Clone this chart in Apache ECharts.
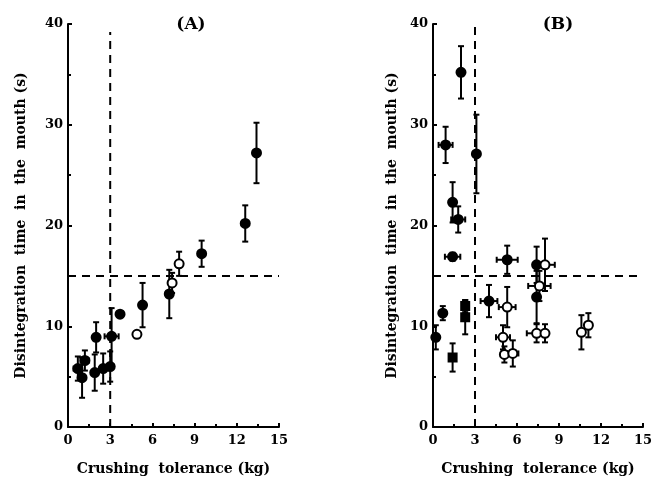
<!DOCTYPE html>
<html>
<head>
<meta charset="utf-8">
<script src="https://cdn.jsdelivr.net/npm/echarts@6/dist/echarts.min.js"></script>
<style>
  html, body { margin: 0; padding: 0; background: #fff; }
  #main { width: 658px; height: 478px; }
</style>
</head>
<body>
<div id="main"></div>
<script>
// [x, y, y error, x error]
var aFilled = [
  [0.7, 5.8, 1.2, 0.3], [1.0, 4.9, 2.0, 0], [1.2, 6.6, 1.0, 0.3],
  [2.0, 8.9, 1.5, 0], [1.9, 5.4, 1.8, 0], [2.5, 5.8, 1.5, 0],
  [3.0, 6.0, 1.5, 0], [3.1, 9.0, 2.8, 0.5], [3.7, 11.2, 0, 0],
  [5.3, 12.1, 2.2, 0], [7.2, 13.2, 2.4, 0], [9.5, 17.2, 1.3, 0],
  [12.6, 20.2, 1.8, 0], [13.4, 27.2, 3.0, 0]
];
var aOpen = [
  [4.9, 9.2, 0, 0], [7.4, 14.3, 1.0, 0], [7.9, 16.2, 1.2, 0]
];
var bFilled = [
  [0.9, 28.0, 1.8, 0.5], [2.0, 35.2, 2.6, 0], [3.1, 27.1, 3.9, 0],
  [1.4, 22.3, 2.0, 0], [1.8, 20.6, 1.3, 0.5], [1.4, 16.9, 0.4, 0.55],
  [5.3, 16.6, 1.4, 0.75], [7.4, 16.1, 1.8, 0], [7.4, 12.9, 2.6, 0],
  [0.7, 11.3, 0.7, 0], [4.0, 12.5, 1.6, 0.6], [0.2, 8.9, 1.2, 0]
];
var bSquare = [
  [2.3, 12.0, 0.6, 0], [2.3, 10.9, 1.7, 0], [1.4, 6.9, 1.4, 0]
];
var bOpen = [
  [8.0, 16.1, 2.6, 0.7], [7.6, 14.0, 1.5, 0.8], [5.3, 11.9, 2.0, 0.6],
  [5.0, 8.9, 1.2, 0.5], [5.1, 7.2, 0.8, 0], [5.7, 7.3, 1.3, 0.4],
  [7.4, 9.3, 0.9, 0.7], [8.0, 9.3, 0.9, 0], [10.6, 9.4, 1.7, 0],
  [11.1, 10.1, 1.2, 0]
];
// cut-off lines
var vLineA = [[3, 0], [3, 39.2]];
var vLineB = [[3, 0], [3, 40]];
var hLine = [[0, 15], [15, 15]];

var font = 'DejaVu Serif';
var chart = echarts.init(document.getElementById('main'));

function errBars(params, api) {
  var x = api.value(0), y = api.value(1), ey = api.value(2), ex = api.value(3);
  var st = { stroke: '#000', lineWidth: 2 };
  var kids = [];
  if (ey > 0) {
    var t = api.coord([x, y + ey]), b = api.coord([x, y - ey]);
    kids.push({ type: 'line', shape: { x1: t[0], y1: t[1], x2: b[0], y2: b[1] }, style: st });
    kids.push({ type: 'line', shape: { x1: t[0] - 3, y1: t[1], x2: t[0] + 3, y2: t[1] }, style: st });
    kids.push({ type: 'line', shape: { x1: b[0] - 3, y1: b[1], x2: b[0] + 3, y2: b[1] }, style: st });
  }
  if (ex > 0) {
    var l = api.coord([x - ex, y]), r = api.coord([x + ex, y]);
    kids.push({ type: 'line', shape: { x1: l[0], y1: l[1], x2: r[0], y2: r[1] }, style: st });
    kids.push({ type: 'line', shape: { x1: l[0], y1: l[1] - 3, x2: l[0], y2: l[1] + 3 }, style: st });
    kids.push({ type: 'line', shape: { x1: r[0], y1: r[1] - 3, x2: r[0], y2: r[1] + 3 }, style: st });
  }
  return { type: 'group', children: kids };
}

function xAx(idx) {
  return {
    gridIndex: idx, type: 'value', min: 0, max: 15, interval: 3,
    name: 'Crushing  tolerance (kg)', nameLocation: 'middle', nameGap: 35,
    nameTextStyle: { fontFamily: font, fontWeight: 'bold', fontSize: 14, color: '#000' },
    axisLine: { lineStyle: { color: '#000', width: 2 } },
    axisTick: { inside: true, length: 4, lineStyle: { width: 2 } },
    minorTick: { show: true, splitNumber: 2, length: 3, lineStyle: { color: '#000', width: 2 } },
    axisLabel: { fontFamily: font, fontWeight: 'bold', fontSize: 13, color: '#000', margin: 7 },
    splitLine: { show: false }
  };
}
function yAx(idx, gap) {
  return {
    gridIndex: idx, type: 'value', min: 0, max: 40, interval: 10,
    name: 'Disintegration  time  in  the  mouth (s)', nameLocation: 'middle', nameGap: gap,
    nameTextStyle: { fontFamily: font, fontWeight: 'bold', fontSize: 14, color: '#000' },
    axisLine: { lineStyle: { color: '#000', width: 2 } },
    axisTick: { inside: true, length: 4, lineStyle: { width: 2 } },
    minorTick: { show: true, splitNumber: 2, length: 3, lineStyle: { color: '#000', width: 2 } },
    axisLabel: { fontFamily: font, fontWeight: 'bold', fontSize: 13, color: '#000', margin: 5 },
    splitLine: { show: false }
  };
}

function dash(data, idx) {
  return {
    type: 'line', xAxisIndex: idx, yAxisIndex: idx, data: data, symbol: 'none',
    silent: true, lineStyle: { color: '#000', width: 2, type: [8, 6] }, z: 1
  };
}
function bars(data, idx) {
  return {
    type: 'custom', xAxisIndex: idx, yAxisIndex: idx, data: data,
    renderItem: errBars, encode: { x: 0, y: 1 }, z: 2, silent: true
  };
}
function pts(data, idx, sym, fill) {
  return {
    type: 'scatter', xAxisIndex: idx, yAxisIndex: idx, data: data,
    encode: { x: 0, y: 1 }, symbol: sym, symbolSize: sym === 'rect' ? 8 : 9, z: 3,
    itemStyle: { color: fill, borderColor: '#000', borderWidth: 2, opacity: 1 }
  };
}

var option = {
  animation: false,
  backgroundColor: '#fff',
  title: [
    { text: '(A)', left: 186, top: 11, textAlign: 'center',
      textStyle: { fontFamily: font, fontWeight: 'bold', fontSize: 17, color: '#000' } },
    { text: '(B)', left: 553, top: 11, textAlign: 'center',
      textStyle: { fontFamily: font, fontWeight: 'bold', fontSize: 17, color: '#000' } }
  ],
  grid: [
    { left: 68, top: 24, width: 211, height: 403, outerBoundsMode: 'none' },
    { left: 433, top: 24, width: 210, height: 403, outerBoundsMode: 'none' }
  ],
  xAxis: [xAx(0), xAx(1)],
  yAxis: [yAx(0, 40), yAx(1, 34)],
  series: [
    dash(vLineA, 0), dash(hLine, 0), dash(vLineB, 1), dash(hLine, 1),
    bars(aFilled, 0), bars(aOpen, 0),
    bars(bFilled, 1), bars(bSquare, 1), bars(bOpen, 1),
    pts(aFilled, 0, 'circle', '#000'), pts(aOpen, 0, 'circle', '#fff'),
    pts(bFilled, 1, 'circle', '#000'), pts(bSquare, 1, 'rect', '#000'),
    pts(bOpen, 1, 'circle', '#fff')
  ]
};
chart.setOption(option);
</script>
</body>
</html>
